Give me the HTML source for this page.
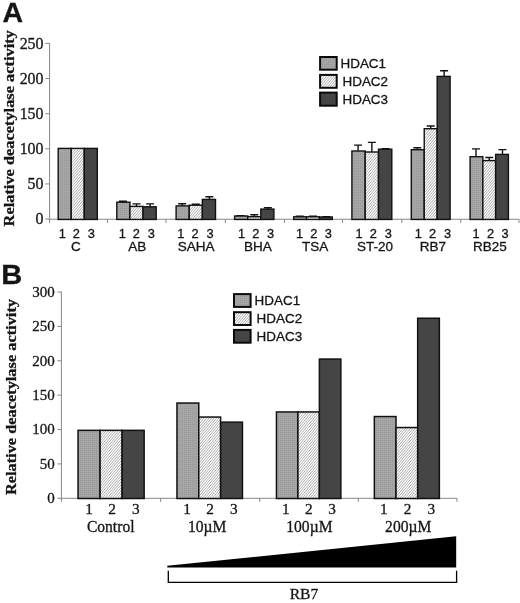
<!DOCTYPE html><html><head><meta charset="utf-8"><title>Figure</title><style>html,body{margin:0;padding:0;background:#fff}svg{display:block;will-change:transform}text{font-family:"Liberation Sans",sans-serif;fill:#151515;stroke:#151515;stroke-width:0.3px}.s{font-family:"Liberation Serif",serif}</style></head><body>
<svg width="520" height="603" viewBox="0 0 520 603">
<defs>
<pattern id="h" width="25" height="30.000" patternUnits="userSpaceOnUse"><rect width="25" height="30.000" fill="#fff"/><path d="M-25.00 30.00L0.00 0M-22.50 30.00L2.50 0M-20.00 30.00L5.00 0M-17.50 30.00L7.50 0M-15.00 30.00L10.00 0M-12.50 30.00L12.50 0M-10.00 30.00L15.00 0M-7.50 30.00L17.50 0M-5.00 30.00L20.00 0M-2.50 30.00L22.50 0M0.00 30.00L25.00 0M2.50 30.00L27.50 0M5.00 30.00L30.00 0M7.50 30.00L32.50 0M10.00 30.00L35.00 0M12.50 30.00L37.50 0M15.00 30.00L40.00 0M17.50 30.00L42.50 0M20.00 30.00L45.00 0M22.50 30.00L47.50 0M25.00 30.00L50.00 0" stroke="#8c8c8c" stroke-width="0.72" fill="none"/></pattern>
<pattern id="d" width="2" height="2" patternUnits="userSpaceOnUse"><rect width="2" height="2" fill="#a3a3a3"/><rect width="1" height="1" fill="#9b9b9b"/><rect x="1" y="1" width="1" height="1" fill="#a9a9a9"/></pattern>
</defs>
<rect width="520" height="603" fill="#fff"/>
<text x="2.6" y="21.7" font-size="28.5" font-weight="bold" fill="#111" textLength="20.6" lengthAdjust="spacingAndGlyphs">A</text>
<path d="M49.6 43.2V223.05M49.6 219.25H519.3" stroke="#7a7a7a" stroke-width="0.9" fill="none"/>
<path d="M45.300000000000004 219.05H49.6" stroke="#7a7a7a" stroke-width="0.9"/>
<text class="s" x="43.5" y="223.70" font-size="15.9" text-anchor="end">0</text>
<path d="M45.300000000000004 183.92H49.6" stroke="#7a7a7a" stroke-width="0.9"/>
<text class="s" x="43.5" y="188.85" font-size="15.9" text-anchor="end">50</text>
<path d="M45.300000000000004 148.79H49.6" stroke="#7a7a7a" stroke-width="0.9"/>
<text class="s" x="43.5" y="154.00" font-size="15.9" text-anchor="end">100</text>
<path d="M45.300000000000004 113.66H49.6" stroke="#7a7a7a" stroke-width="0.9"/>
<text class="s" x="43.5" y="119.15" font-size="15.9" text-anchor="end">150</text>
<path d="M45.300000000000004 78.53H49.6" stroke="#7a7a7a" stroke-width="0.9"/>
<text class="s" x="43.5" y="84.30" font-size="15.9" text-anchor="end">200</text>
<path d="M45.300000000000004 43.40H49.6" stroke="#7a7a7a" stroke-width="0.9"/>
<text class="s" x="43.5" y="49.45" font-size="15.9" text-anchor="end">250</text>
<path d="M107.60 219.25V223.05" stroke="#7a7a7a" stroke-width="0.9"/>
<path d="M166.00 219.25V223.05" stroke="#7a7a7a" stroke-width="0.9"/>
<path d="M225.30 219.25V223.05" stroke="#7a7a7a" stroke-width="0.9"/>
<path d="M284.40 219.25V223.05" stroke="#7a7a7a" stroke-width="0.9"/>
<path d="M342.60 219.25V223.05" stroke="#7a7a7a" stroke-width="0.9"/>
<path d="M401.80 219.25V223.05" stroke="#7a7a7a" stroke-width="0.9"/>
<path d="M460.80 219.25V223.05" stroke="#7a7a7a" stroke-width="0.9"/>
<path d="M519.00 219.25V223.05" stroke="#7a7a7a" stroke-width="0.9"/>
<rect x="58.20" y="148.40" width="13.03" height="71.05" fill="url(#d)" stroke="#111" stroke-width="1.4"/>
<rect x="71.23" y="148.40" width="13.03" height="71.05" fill="url(#h)" stroke="#111" stroke-width="1.4"/>
<rect x="84.27" y="148.40" width="13.03" height="71.05" fill="#454545" stroke="#111" stroke-width="1.4"/>
<text x="62.40" y="237.6" font-size="12.8" text-anchor="middle">1</text>
<text x="76.25" y="237.6" font-size="12.8" text-anchor="middle">2</text>
<text x="91.25" y="237.6" font-size="12.8" text-anchor="middle">3</text>
<text x="75.90" y="250.9" font-size="13.5" text-anchor="middle">C</text>
<path d="M122.90 202.50V201.30M118.90 201.30H126.90" stroke="#111" stroke-width="1.4" fill="none"/>
<path d="M136.50 206.70V203.90M132.50 203.90H140.50" stroke="#111" stroke-width="1.4" fill="none"/>
<path d="M150.10 207.10V203.90M146.10 203.90H154.10" stroke="#111" stroke-width="1.4" fill="none"/>
<rect x="116.80" y="202.20" width="13.13" height="17.25" fill="url(#d)" stroke="#111" stroke-width="1.4"/>
<rect x="129.93" y="206.40" width="13.13" height="13.05" fill="url(#h)" stroke="#111" stroke-width="1.4"/>
<rect x="143.07" y="206.80" width="13.13" height="12.65" fill="#454545" stroke="#111" stroke-width="1.4"/>
<text x="122.40" y="237.6" font-size="12.8" text-anchor="middle">1</text>
<text x="136.25" y="237.6" font-size="12.8" text-anchor="middle">2</text>
<text x="151.25" y="237.6" font-size="12.8" text-anchor="middle">3</text>
<text x="137.25" y="250.9" font-size="13.5" text-anchor="middle">AB</text>
<path d="M182.20 206.20V203.70M178.20 203.70H186.20" stroke="#111" stroke-width="1.4" fill="none"/>
<path d="M195.80 205.50V204.30M191.80 204.30H199.80" stroke="#111" stroke-width="1.4" fill="none"/>
<path d="M209.40 199.70V196.70M205.40 196.70H213.40" stroke="#111" stroke-width="1.4" fill="none"/>
<rect x="176.10" y="205.90" width="13.13" height="13.55" fill="url(#d)" stroke="#111" stroke-width="1.4"/>
<rect x="189.23" y="205.20" width="13.13" height="14.25" fill="url(#h)" stroke="#111" stroke-width="1.4"/>
<rect x="202.37" y="199.40" width="13.13" height="20.05" fill="#454545" stroke="#111" stroke-width="1.4"/>
<text x="180.90" y="237.6" font-size="12.8" text-anchor="middle">1</text>
<text x="195.00" y="237.6" font-size="12.8" text-anchor="middle">2</text>
<text x="210.00" y="237.6" font-size="12.8" text-anchor="middle">3</text>
<text x="196.25" y="250.9" font-size="13.5" text-anchor="middle">SAHA</text>
<path d="M240.68 216.30V215.70M236.68 215.70H244.68" stroke="#111" stroke-width="1.4" fill="none"/>
<path d="M254.25 217.00V214.70M250.25 214.70H258.25" stroke="#111" stroke-width="1.4" fill="none"/>
<path d="M267.82 209.40V207.80M263.82 207.80H271.82" stroke="#111" stroke-width="1.4" fill="none"/>
<rect x="234.60" y="216.00" width="13.10" height="3.45" fill="url(#d)" stroke="#111" stroke-width="1.4"/>
<rect x="247.70" y="216.70" width="13.10" height="2.75" fill="url(#h)" stroke="#111" stroke-width="1.4"/>
<rect x="260.80" y="209.10" width="13.10" height="10.35" fill="#454545" stroke="#111" stroke-width="1.4"/>
<text x="241.60" y="237.6" font-size="12.8" text-anchor="middle">1</text>
<text x="255.75" y="237.6" font-size="12.8" text-anchor="middle">2</text>
<text x="270.50" y="237.6" font-size="12.8" text-anchor="middle">3</text>
<text x="258.00" y="250.9" font-size="13.5" text-anchor="middle">BHA</text>
<path d="M299.67 217.10V216.30M295.67 216.30H303.67" stroke="#111" stroke-width="1.4" fill="none"/>
<path d="M313.00 217.10V216.30M309.00 216.30H317.00" stroke="#111" stroke-width="1.4" fill="none"/>
<path d="M326.33 217.30V216.70M322.33 216.70H330.33" stroke="#111" stroke-width="1.4" fill="none"/>
<rect x="293.70" y="216.80" width="12.87" height="2.65" fill="url(#d)" stroke="#111" stroke-width="1.4"/>
<rect x="306.57" y="216.80" width="12.87" height="2.65" fill="url(#h)" stroke="#111" stroke-width="1.4"/>
<rect x="319.43" y="217.00" width="12.87" height="2.45" fill="#454545" stroke="#111" stroke-width="1.4"/>
<text x="299.60" y="237.6" font-size="12.8" text-anchor="middle">1</text>
<text x="313.75" y="237.6" font-size="12.8" text-anchor="middle">2</text>
<text x="328.25" y="237.6" font-size="12.8" text-anchor="middle">3</text>
<text x="315.25" y="250.9" font-size="13.5" text-anchor="middle">TSA</text>
<path d="M358.08 151.30V145.10M354.08 145.10H362.08" stroke="#111" stroke-width="1.4" fill="none"/>
<path d="M371.85 152.30V142.40M367.85 142.40H375.85" stroke="#111" stroke-width="1.4" fill="none"/>
<path d="M385.62 149.50V148.80M381.62 148.80H389.62" stroke="#111" stroke-width="1.4" fill="none"/>
<rect x="351.90" y="151.00" width="13.30" height="68.45" fill="url(#d)" stroke="#111" stroke-width="1.4"/>
<rect x="365.20" y="152.00" width="13.30" height="67.45" fill="url(#h)" stroke="#111" stroke-width="1.4"/>
<rect x="378.50" y="149.20" width="13.30" height="70.25" fill="#454545" stroke="#111" stroke-width="1.4"/>
<text x="359.10" y="237.6" font-size="12.8" text-anchor="middle">1</text>
<text x="373.25" y="237.6" font-size="12.8" text-anchor="middle">2</text>
<text x="388.25" y="237.6" font-size="12.8" text-anchor="middle">3</text>
<text x="375.00" y="250.9" font-size="13.5" text-anchor="middle">ST-20</text>
<path d="M417.30 150.00V147.70M413.30 147.70H421.30" stroke="#111" stroke-width="1.4" fill="none"/>
<path d="M430.70 129.00V126.00M426.70 126.00H434.70" stroke="#111" stroke-width="1.4" fill="none"/>
<path d="M444.10 76.70V70.70M440.10 70.70H448.10" stroke="#111" stroke-width="1.4" fill="none"/>
<rect x="411.30" y="149.70" width="12.93" height="69.75" fill="url(#d)" stroke="#111" stroke-width="1.4"/>
<rect x="424.23" y="128.70" width="12.93" height="90.75" fill="url(#h)" stroke="#111" stroke-width="1.4"/>
<rect x="437.17" y="76.40" width="12.93" height="143.05" fill="#454545" stroke="#111" stroke-width="1.4"/>
<text x="418.40" y="237.6" font-size="12.8" text-anchor="middle">1</text>
<text x="432.50" y="237.6" font-size="12.8" text-anchor="middle">2</text>
<text x="447.50" y="237.6" font-size="12.8" text-anchor="middle">3</text>
<text x="432.90" y="250.9" font-size="13.5" text-anchor="middle">RB7</text>
<path d="M476.02 157.00V148.90M472.02 148.90H480.02" stroke="#111" stroke-width="1.4" fill="none"/>
<path d="M489.25 160.90V157.50M485.25 157.50H493.25" stroke="#111" stroke-width="1.4" fill="none"/>
<path d="M502.48 154.70V149.60M498.48 149.60H506.48" stroke="#111" stroke-width="1.4" fill="none"/>
<rect x="470.10" y="156.70" width="12.77" height="62.75" fill="url(#d)" stroke="#111" stroke-width="1.4"/>
<rect x="482.87" y="160.60" width="12.77" height="58.85" fill="url(#h)" stroke="#111" stroke-width="1.4"/>
<rect x="495.63" y="154.40" width="12.77" height="65.05" fill="#454545" stroke="#111" stroke-width="1.4"/>
<text x="476.10" y="237.6" font-size="12.8" text-anchor="middle">1</text>
<text x="490.50" y="237.6" font-size="12.8" text-anchor="middle">2</text>
<text x="505.00" y="237.6" font-size="12.8" text-anchor="middle">3</text>
<text x="490.00" y="250.9" font-size="13.5" text-anchor="middle">RB25</text>
<text class="s" transform="translate(14.2 226.4) rotate(-90)" font-size="14.8" font-weight="bold" textLength="196.2" lengthAdjust="spacingAndGlyphs" fill="#111">Relative deacetylase activity</text>
<rect x="320.10" y="57.00" width="16.60" height="12.70" fill="url(#d)" stroke="#0a0a0a" stroke-width="2"/>
<text x="340.50" y="68.30" font-size="13.45">HDAC1</text>
<rect x="320.10" y="74.90" width="16.60" height="12.90" fill="url(#h)" stroke="#0a0a0a" stroke-width="2"/>
<text x="342.50" y="86.30" font-size="13.45">HDAC2</text>
<rect x="320.10" y="92.60" width="16.60" height="13.10" fill="#454545" stroke="#0a0a0a" stroke-width="2"/>
<text x="342.50" y="104.20" font-size="13.45">HDAC3</text>
<text x="1.2" y="284.2" font-size="28.3" font-weight="bold" fill="#111" textLength="21" lengthAdjust="spacingAndGlyphs">B</text>
<path d="M61.4 291.7V501.90000000000003M61.4 498.3H457" stroke="#7a7a7a" stroke-width="0.9" fill="none"/>
<path d="M57.4 498.30H61.4" stroke="#7a7a7a" stroke-width="0.9"/>
<text class="s" x="54.8" y="503.05" font-size="15" text-anchor="end">0</text>
<path d="M57.4 463.92H61.4" stroke="#7a7a7a" stroke-width="0.9"/>
<text class="s" x="54.8" y="468.67" font-size="15" text-anchor="end">50</text>
<path d="M57.4 429.53H61.4" stroke="#7a7a7a" stroke-width="0.9"/>
<text class="s" x="54.8" y="434.28" font-size="15" text-anchor="end">100</text>
<path d="M57.4 395.15H61.4" stroke="#7a7a7a" stroke-width="0.9"/>
<text class="s" x="54.8" y="399.90" font-size="15" text-anchor="end">150</text>
<path d="M57.4 360.77H61.4" stroke="#7a7a7a" stroke-width="0.9"/>
<text class="s" x="54.8" y="365.52" font-size="15" text-anchor="end">200</text>
<path d="M57.4 326.38H61.4" stroke="#7a7a7a" stroke-width="0.9"/>
<text class="s" x="54.8" y="331.13" font-size="15" text-anchor="end">250</text>
<path d="M57.4 292.00H61.4" stroke="#7a7a7a" stroke-width="0.9"/>
<text class="s" x="54.8" y="296.75" font-size="15" text-anchor="end">300</text>
<path d="M160.60 498.3V501.90000000000003" stroke="#7a7a7a" stroke-width="0.9"/>
<path d="M259.80 498.3V501.90000000000003" stroke="#7a7a7a" stroke-width="0.9"/>
<path d="M358.30 498.3V501.90000000000003" stroke="#7a7a7a" stroke-width="0.9"/>
<path d="M457.00 498.3V501.90000000000003" stroke="#7a7a7a" stroke-width="0.9"/>
<rect x="78.05" y="430.35" width="22.03" height="68.15" fill="url(#d)" stroke="#111" stroke-width="1.5"/>
<rect x="100.08" y="430.35" width="22.03" height="68.15" fill="url(#h)" stroke="#111" stroke-width="1.5"/>
<rect x="122.12" y="430.35" width="22.03" height="68.15" fill="#454545" stroke="#111" stroke-width="1.5"/>
<text class="s" x="89.20" y="514.4" font-size="15.3" text-anchor="middle">1</text>
<text class="s" x="112.20" y="514.4" font-size="15.3" text-anchor="middle">2</text>
<text class="s" x="135.90" y="514.4" font-size="15.3" text-anchor="middle">3</text>
<text class="s" transform="translate(110.70 532.3) scale(1 1.05)" font-size="15.6" text-anchor="middle">Control</text>
<rect x="176.95" y="403.05" width="21.83" height="95.45" fill="url(#d)" stroke="#111" stroke-width="1.5"/>
<rect x="198.78" y="417.05" width="21.83" height="81.45" fill="url(#h)" stroke="#111" stroke-width="1.5"/>
<rect x="220.62" y="422.15" width="21.83" height="76.35" fill="#454545" stroke="#111" stroke-width="1.5"/>
<text class="s" x="187.20" y="514.4" font-size="15.3" text-anchor="middle">1</text>
<text class="s" x="210.20" y="514.4" font-size="15.3" text-anchor="middle">2</text>
<text class="s" x="233.80" y="514.4" font-size="15.3" text-anchor="middle">3</text>
<text class="s" transform="translate(207.20 532.3) scale(1 1.05)" font-size="15.6" text-anchor="middle">10µM</text>
<rect x="276.45" y="411.95" width="21.47" height="86.55" fill="url(#d)" stroke="#111" stroke-width="1.5"/>
<rect x="297.92" y="411.95" width="21.47" height="86.55" fill="url(#h)" stroke="#111" stroke-width="1.5"/>
<rect x="319.38" y="359.05" width="21.47" height="139.45" fill="#454545" stroke="#111" stroke-width="1.5"/>
<text class="s" x="285.80" y="514.4" font-size="15.3" text-anchor="middle">1</text>
<text class="s" x="308.80" y="514.4" font-size="15.3" text-anchor="middle">2</text>
<text class="s" x="332.20" y="514.4" font-size="15.3" text-anchor="middle">3</text>
<text class="s" transform="translate(309.40 532.3) scale(1 1.05)" font-size="15.6" text-anchor="middle">100µM</text>
<rect x="374.35" y="416.55" width="21.67" height="81.95" fill="url(#d)" stroke="#111" stroke-width="1.5"/>
<rect x="396.02" y="427.55" width="21.67" height="70.95" fill="url(#h)" stroke="#111" stroke-width="1.5"/>
<rect x="417.68" y="318.25" width="21.67" height="180.25" fill="#454545" stroke="#111" stroke-width="1.5"/>
<text class="s" x="383.80" y="514.4" font-size="15.3" text-anchor="middle">1</text>
<text class="s" x="407.60" y="514.4" font-size="15.3" text-anchor="middle">2</text>
<text class="s" x="431.40" y="514.4" font-size="15.3" text-anchor="middle">3</text>
<text class="s" transform="translate(408.20 532.3) scale(1 1.05)" font-size="15.6" text-anchor="middle">200µM</text>
<text class="s" transform="translate(15.6 495.1) rotate(-90)" font-size="14.8" font-weight="bold" textLength="196.1" lengthAdjust="spacingAndGlyphs" fill="#111">Relative deacetylase activity</text>
<rect x="234.00" y="294.10" width="16.60" height="12.80" fill="url(#d)" stroke="#0a0a0a" stroke-width="2"/>
<text x="254.60" y="305.10" font-size="13.45">HDAC1</text>
<rect x="234.00" y="312.20" width="16.60" height="12.80" fill="url(#h)" stroke="#0a0a0a" stroke-width="2"/>
<text x="256.60" y="323.30" font-size="13.45">HDAC2</text>
<rect x="234.00" y="329.90" width="16.60" height="12.80" fill="#454545" stroke="#0a0a0a" stroke-width="2"/>
<text x="256.60" y="340.60" font-size="13.45">HDAC3</text>
<path d="M167.3 565.8L456.2 536.2V567.5H167.3Z" fill="#000"/>
<path d="M168.3 570.8V582.4H456.6V570.8" stroke="#000" stroke-width="1.3" fill="none"/>
<text class="s" x="304" y="598.9" font-size="15.6" text-anchor="middle">RB7</text>
</svg></body></html>
